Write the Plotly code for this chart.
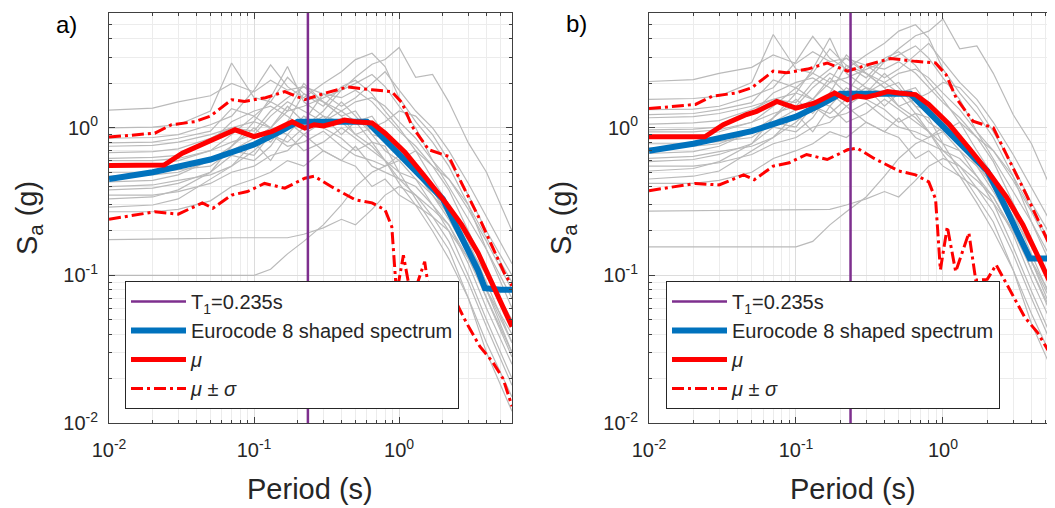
import plotly.graph_objects as go

# ---------------- data ----------------
T1 = 0.235
Y_LIM = [0.01, 6.0]

# period grid of the individual record spectra (s)
P = [0.01, 0.02, 0.03, 0.05, 0.07, 0.1, 0.13, 0.17, 0.22, 0.3, 0.4, 0.5,
     0.65, 0.8, 1.0, 1.3, 1.7, 2.2, 3.0, 4.0, 6.0]

# panel a) individual records Sa (g)
rec_a = [
    [1.32, 1.36, 1.5, 1.65, 2.0, 1.75, 2.1, 1.8, 1.9, 1.7, 1.6, 1.8, 1.5, 1.2, 0.95, 0.75, 0.55, 0.38, 0.2, 0.11, 0.045],
    [1.0, 1.01, 1.05, 1.3, 2.75, 1.6, 1.5, 2.2, 1.7, 1.4, 1.9, 2.1, 1.7, 1.3, 1.0, 0.7, 0.45, 0.3, 0.17, 0.09, 0.035],
    [0.85, 0.86, 0.9, 1.05, 1.2, 1.8, 2.67, 1.9, 1.6, 2.0, 2.4, 2.9, 3.2, 2.6, 1.6, 1.1, 0.8, 0.55, 0.3, 0.15, 0.06],
    [0.79, 0.8, 0.85, 0.95, 1.35, 1.2, 1.5, 1.3, 1.4, 1.6, 1.8, 2.2, 2.7, 2.9, 3.5, 2.2, 2.3, 1.5, 0.79, 0.5, 0.2],
    [0.75, 0.76, 0.8, 0.9, 1.0, 1.1, 1.0, 1.3, 2.0, 1.5, 1.3, 1.1, 1.2, 0.9, 0.75, 0.55, 0.4, 0.3, 0.16, 0.08, 0.03],
    [0.55, 0.56, 0.6, 0.7, 0.8, 0.9, 1.2, 1.5, 1.3, 1.1, 1.5, 1.2, 0.9, 0.7, 0.6, 0.45, 0.3, 0.2, 0.1, 0.05, 0.02],
    [0.47, 0.48, 0.5, 0.6, 0.75, 1.0, 0.8, 1.1, 1.7, 1.5, 1.2, 1.3, 0.9, 0.85, 0.7, 0.55, 0.38, 0.25, 0.14, 0.07, 0.028],
    [0.43, 0.44, 0.48, 0.6, 0.7, 0.85, 1.0, 0.9, 1.2, 1.0, 0.85, 0.7, 0.8, 0.75, 0.5, 0.33, 0.22, 0.15, 0.07, 0.03, 0.012],
    [0.38, 0.39, 0.42, 0.5, 0.65, 0.6, 0.75, 1.1, 0.9, 0.7, 0.6, 0.75, 0.55, 0.5, 0.45, 0.4, 0.3, 0.22, 0.12, 0.06, 0.025],
    [0.29, 0.3, 0.33, 0.45, 0.55, 0.8, 0.6, 0.9, 0.7, 0.8, 1.0, 0.85, 0.7, 0.6, 0.5, 0.45, 0.35, 0.26, 0.16, 0.1, 0.05],
    [0.27, 0.27, 0.28, 0.32, 0.4, 0.45, 0.5, 0.6, 0.55, 0.7, 0.6, 0.55, 0.4, 0.45, 0.35, 0.3, 0.25, 0.2, 0.13, 0.07, 0.03],
    [0.175, 0.176, 0.177, 0.178, 0.18, 0.18, 0.18, 0.18, 0.19, 0.21, 0.24, 0.22, 0.28, 0.35, 0.4, 0.35, 0.28, 0.22, 0.13, 0.08, 0.04],
    [0.1, 0.1, 0.1, 0.1, 0.1, 0.1, 0.11, 0.14, 0.17, 0.22, 0.3, 0.4, 0.5, 0.55, 0.6, 0.7, 0.55, 0.45, 0.3, 0.18, 0.09],
    [0.62, 0.63, 0.65, 0.8, 1.1, 1.3, 1.4, 1.2, 1.0, 1.2, 1.1, 0.9, 1.0, 1.1, 1.3, 1.2, 0.9, 0.6, 0.35, 0.2, 0.1],
    [0.5, 0.5, 0.52, 0.55, 0.7, 0.65, 0.9, 0.8, 1.0, 1.3, 1.8, 2.0, 2.3, 1.9, 1.4, 1.0, 0.6, 0.4, 0.24, 0.15, 0.07],
    [0.33, 0.34, 0.38, 0.5, 0.75, 1.1, 1.6, 2.6, 1.5, 1.2, 0.9, 1.1, 0.8, 0.6, 0.45, 0.35, 0.25, 0.17, 0.09, 0.045, 0.018],
    [0.6, 0.6, 0.62, 0.7, 0.9, 1.2, 1.0, 1.4, 1.1, 1.7, 1.4, 1.6, 2.0, 2.4, 1.8, 1.3, 1.0, 0.7, 0.42, 0.25, 0.12],
    [0.4, 0.41, 0.44, 0.48, 0.55, 0.7, 0.9, 0.75, 0.8, 0.95, 0.75, 0.65, 0.6, 0.55, 0.65, 0.5, 0.35, 0.24, 0.14, 0.08, 0.035],
    [0.68, 0.69, 0.72, 0.85, 1.0, 0.95, 1.3, 1.6, 1.9, 1.5, 1.2, 0.9, 0.75, 0.6, 0.42, 0.3, 0.2, 0.13, 0.07, 0.035, 0.015],
    [0.35, 0.35, 0.37, 0.42, 0.5, 0.55, 0.65, 0.7, 0.9, 1.1, 1.3, 1.5, 1.6, 1.4, 1.1, 0.85, 0.6, 0.45, 0.28, 0.17, 0.08],
]

# panel b) individual records Sa (g)
rec_b = [
    [2.06, 2.12, 2.34, 2.57, 3.12, 2.73, 3.28, 2.81, 2.96, 2.65, 2.5, 2.81, 2.34, 1.87, 1.48, 1.17, 0.86, 0.59, 0.31, 0.17, 0.07],
    [1.56, 1.58, 1.64, 2.03, 4.29, 2.5, 2.34, 3.43, 2.65, 2.18, 2.96, 3.28, 2.65, 2.03, 1.56, 1.09, 0.70, 0.47, 0.27, 0.14, 0.055],
    [1.33, 1.34, 1.4, 1.64, 1.87, 2.81, 4.17, 2.96, 2.5, 3.12, 3.74, 4.52, 4.99, 4.06, 2.5, 1.72, 1.25, 0.86, 0.47, 0.23, 0.094],
    [1.23, 1.25, 1.33, 1.48, 2.11, 1.87, 2.34, 2.03, 2.18, 2.5, 2.81, 3.43, 4.21, 4.52, 5.46, 3.43, 3.59, 2.34, 1.23, 0.78, 0.31],
    [1.17, 1.19, 1.25, 1.4, 1.56, 1.72, 1.56, 2.03, 3.12, 2.34, 2.03, 1.72, 1.87, 1.4, 1.17, 0.86, 0.62, 0.47, 0.25, 0.125, 0.047],
    [0.86, 0.87, 0.94, 1.09, 1.25, 1.4, 1.87, 2.34, 2.03, 1.72, 2.34, 1.87, 1.4, 1.09, 0.94, 0.70, 0.47, 0.31, 0.156, 0.078, 0.031],
    [0.73, 0.75, 0.78, 0.94, 1.17, 1.56, 1.25, 1.72, 2.65, 2.34, 1.87, 2.03, 1.4, 1.33, 1.09, 0.86, 0.59, 0.39, 0.22, 0.109, 0.044],
    [0.67, 0.69, 0.75, 0.94, 1.09, 1.33, 1.56, 1.4, 1.87, 1.56, 1.33, 1.09, 1.25, 1.17, 0.78, 0.51, 0.34, 0.23, 0.109, 0.047, 0.019],
    [0.59, 0.61, 0.66, 0.78, 1.01, 0.94, 1.17, 1.72, 1.4, 1.09, 0.94, 1.17, 0.86, 0.78, 0.70, 0.62, 0.47, 0.34, 0.19, 0.094, 0.039],
    [0.45, 0.47, 0.51, 0.70, 0.86, 1.25, 0.94, 1.4, 1.09, 1.25, 1.56, 1.33, 1.09, 0.94, 0.78, 0.70, 0.55, 0.41, 0.25, 0.156, 0.078],
    [0.42, 0.42, 0.44, 0.5, 0.62, 0.70, 0.78, 0.94, 0.86, 1.09, 0.94, 0.86, 0.62, 0.70, 0.55, 0.47, 0.39, 0.31, 0.2, 0.109, 0.047],
    [0.273, 0.275, 0.276, 0.278, 0.28, 0.28, 0.28, 0.28, 0.30, 0.33, 0.37, 0.34, 0.44, 0.55, 0.62, 0.55, 0.44, 0.34, 0.2, 0.125, 0.062],
    [0.156, 0.156, 0.156, 0.156, 0.156, 0.156, 0.17, 0.22, 0.27, 0.34, 0.47, 0.62, 0.78, 0.86, 0.94, 1.09, 0.86, 0.70, 0.47, 0.28, 0.14],
    [0.97, 0.98, 1.01, 1.25, 1.72, 2.03, 2.18, 1.87, 1.56, 1.87, 1.72, 1.4, 1.56, 1.72, 2.03, 1.87, 1.4, 0.94, 0.55, 0.31, 0.156],
    [0.78, 0.78, 0.81, 0.86, 1.09, 1.01, 1.4, 1.25, 1.56, 2.03, 2.81, 3.12, 3.59, 2.96, 2.18, 1.56, 0.94, 0.62, 0.37, 0.23, 0.109],
    [0.51, 0.53, 0.59, 0.78, 1.17, 1.72, 2.5, 4.06, 2.34, 1.87, 1.4, 1.72, 1.25, 0.94, 0.70, 0.55, 0.39, 0.27, 0.14, 0.07, 0.028],
    [0.94, 0.94, 0.97, 1.09, 1.4, 1.87, 1.56, 2.18, 1.72, 2.65, 2.18, 2.5, 3.12, 3.74, 2.81, 2.03, 1.56, 1.09, 0.66, 0.39, 0.19],
    [0.62, 0.64, 0.69, 0.75, 0.86, 1.09, 1.4, 1.17, 1.25, 1.48, 1.17, 1.01, 0.94, 0.86, 1.01, 0.78, 0.55, 0.37, 0.22, 0.125, 0.055],
    [1.06, 1.08, 1.12, 1.33, 1.56, 1.48, 2.03, 2.5, 2.96, 2.34, 1.87, 1.4, 1.17, 0.94, 0.66, 0.47, 0.31, 0.2, 0.109, 0.055, 0.023],
    [0.55, 0.55, 0.58, 0.66, 0.78, 0.86, 1.01, 1.09, 1.4, 1.72, 2.03, 2.34, 2.5, 2.18, 1.72, 1.33, 0.94, 0.70, 0.44, 0.27, 0.125],
]

# Eurocode 8 shaped spectrum
EC8_T = [0.01, 0.02, 0.05, 0.1, 0.15, 0.2, 0.3, 0.4, 0.5, 0.6, 0.8, 1.0,
         1.5, 2.0, 2.5, 3.0, 3.5, 3.9, 4.5, 5.0, 6.0]
EC8_a = [0.45, 0.50, 0.61, 0.77, 0.94, 1.10, 1.10, 1.10, 1.10, 1.10, 0.83, 0.66,
         0.44, 0.33, 0.21, 0.147, 0.108, 0.082, 0.08, 0.08, 0.08]
EC8_b = [0.70, 0.78, 0.95, 1.19, 1.45, 1.70, 1.70, 1.70, 1.70, 1.70, 1.28, 1.02,
         0.68, 0.51, 0.33, 0.227, 0.167, 0.13, 0.13, 0.13, 0.13]

# mean spectrum
MU_T = [0.01, 0.024, 0.032, 0.046, 0.054, 0.074, 0.1, 0.133, 0.183, 0.224, 0.26, 0.3,
        0.35, 0.42, 0.5, 0.65, 0.8, 1.1, 1.5, 2.1, 2.7, 3.5, 4.5, 6.0]
MU_a = [0.556, 0.56, 0.673, 0.787, 0.83, 0.97, 0.873, 0.944, 1.10, 0.995, 1.05, 1.03,
        1.07, 1.13, 1.10, 1.08, 0.92, 0.68, 0.47, 0.31, 0.22, 0.142, 0.083, 0.045]
MU_b = [0.87, 0.87, 1.05, 1.23, 1.29, 1.51, 1.36, 1.47, 1.72, 1.55, 1.64, 1.61,
        1.67, 1.76, 1.72, 1.68, 1.44, 1.06, 0.73, 0.48, 0.34, 0.22, 0.13, 0.07]

# mean + sigma
UP_T = [0.01, 0.0207, 0.027, 0.039, 0.05, 0.07, 0.086, 0.12, 0.163, 0.224, 0.31, 0.44,
        0.65, 0.89, 1.05, 1.23, 1.6, 2.2, 2.7, 3.7, 5.3, 6.0]
UP_a = [0.865, 0.92, 1.05, 1.10, 1.2, 1.55, 1.51, 1.6, 1.76, 1.55, 1.72, 1.89,
        1.81, 1.76, 1.47, 1.02, 0.71, 0.64, 0.42, 0.227, 0.104, 0.085]
UP_b = [1.35, 1.44, 1.64, 1.72, 1.87, 2.42, 2.36, 2.5, 2.75, 2.42, 2.68, 2.95,
        2.82, 2.75, 2.29, 1.59, 1.11, 1.0, 0.66, 0.35, 0.162, 0.133]

# mean - sigma
LO_T = [0.01, 0.0207, 0.03, 0.044, 0.052, 0.07, 0.09, 0.118, 0.163, 0.224, 0.26, 0.34,
        0.5, 0.65, 0.8, 0.89, 0.96, 1.07, 1.22, 1.5, 1.67, 2.0, 2.3, 2.6, 2.9, 3.6,
        4.4, 5.2, 6.0]
LO_a = [0.24, 0.27, 0.26, 0.31, 0.285, 0.35, 0.37, 0.42, 0.39, 0.456, 0.47, 0.40,
        0.325, 0.31, 0.278, 0.214, 0.075, 0.137, 0.068, 0.124, 0.06, 0.06, 0.076, 0.06,
        0.048, 0.033, 0.026, 0.02, 0.013]
LO_b = [0.375, 0.42, 0.41, 0.48, 0.445, 0.55, 0.58, 0.66, 0.61, 0.71, 0.73, 0.62,
        0.51, 0.48, 0.43, 0.33, 0.109, 0.214, 0.106, 0.194, 0.093, 0.094, 0.118, 0.094,
        0.076, 0.052, 0.041, 0.031, 0.021]

X_TICKS = [0.01, 0.1, 1]
X_TICKTEXT = ["10<sup>-2</sup>", "10<sup>-1</sup>", "10<sup>0</sup>"]
Y_TICKS = [0.01, 0.1, 1]
Y_TICKTEXT = ["10<sup>-2</sup>", "10<sup>-1</sup>", "10<sup>0</sup>"]
MINOR_X = [2e-2, 3e-2, 4e-2, 5e-2, 6e-2, 7e-2, 8e-2, 9e-2,
           0.2, 0.3, 0.4, 0.5, 0.6, 0.7, 0.8, 0.9, 2, 3, 4, 5, 6]
MINOR_Y = MINOR_X

# ---------------- styling ----------------
# the page body has an 8 px margin, so the figure is 8 px smaller and
# screen coordinates are converted with an 8 px offset
OFF = 8
W, H = 1055 - OFF, 508 - OFF
FONT = "Arial, 'Liberation Sans', Helvetica, sans-serif"
TXT = "#262626"
GRAY = "#bababa"
BLUE = "#0072BD"
RED = "#FF0000"
PURPLE = "#7E2F8E"
DASHDOT = "12px,4px,3px,4px"


def fx(sx):
    return (sx - OFF) / W


def fy(sy):
    return 1 - (sy - OFF) / H


fig = go.Figure()


def add_panel(xa, ya, leg, rec, ec8, mu, up, lo):
    for r in rec:
        fig.add_trace(go.Scatter(x=P, y=r, mode="lines", xaxis=xa, yaxis=ya,
                                 line=dict(color=GRAY, width=1.2), showlegend=False,
                                 hoverinfo="skip"))
    fig.add_trace(go.Scatter(x=EC8_T, y=ec8, mode="lines", xaxis=xa, yaxis=ya,
                             line=dict(color=BLUE, width=6),
                             name="Eurocode 8 shaped spectrum", legend=leg, legendrank=2))
    fig.add_trace(go.Scatter(x=MU_T, y=mu, mode="lines", xaxis=xa, yaxis=ya,
                             line=dict(color=RED, width=5),
                             name="<i>μ</i>", legend=leg, legendrank=3))
    fig.add_trace(go.Scatter(x=UP_T, y=up, mode="lines", xaxis=xa, yaxis=ya,
                             line=dict(color=RED, width=3, dash=DASHDOT),
                             name="<i>μ</i> ± <i>σ</i>", legend=leg, legendrank=4))
    fig.add_trace(go.Scatter(x=LO_T, y=lo, mode="lines", xaxis=xa, yaxis=ya,
                             line=dict(color=RED, width=3, dash=DASHDOT),
                             showlegend=False))
    fig.add_trace(go.Scatter(x=[T1, T1], y=Y_LIM, mode="lines", xaxis=xa, yaxis=ya,
                             line=dict(color=PURPLE, width=2.5),
                             name="T<sub>1</sub>=0.235s", legend=leg, legendrank=1))


add_panel("x", "y", "legend", rec_a, EC8_a, MU_a, UP_a, LO_a)
add_panel("x2", "y2", "legend2", rec_b, EC8_b, MU_b, UP_b, LO_b)


def axis_common(ticks_v, ticks_t, minor_v, standoff):
    return dict(type="log", tickvals=ticks_v, ticktext=ticks_t, ticks="inside", ticklen=6,
                tickcolor="#404040", showline=True, linecolor="#404040", linewidth=1,
                showgrid=True, gridcolor="#dcdcdc", gridwidth=1, automargin=False,
                ticklabelstandoff=standoff,
                zeroline=False, tickfont=dict(family=FONT, size=20, color=TXT),
                minor=dict(tickvals=minor_v, ticks="inside", ticklen=3,
                           tickcolor="#404040", showgrid=True, gridcolor="#ececec",
                           gridwidth=1))


ydom = [fy(423), fy(13)]
legend_style = dict(xanchor="left", yanchor="top", bgcolor="white",
                    bordercolor="#262626", borderwidth=1, itemwidth=55,
                    tracegroupgap=0, traceorder="normal",
                    font=dict(family=FONT, size=20, color=TXT))


def label(text, sx, sy, size, color=TXT, angle=0):
    return dict(text=text, x=fx(sx), y=fy(sy), xref="paper", yref="paper",
                xanchor="center", yanchor="middle", textangle=angle,
                showarrow=False, font=dict(family=FONT, size=size, color=color))


fig.update_layout(
    width=W, height=H, margin=dict(l=0, r=0, t=0, b=0, autoexpand=False),
    paper_bgcolor="white", plot_bgcolor="white",
    xaxis=axis_common(X_TICKS, X_TICKTEXT, MINOR_X, 9) | dict(
        domain=[fx(109), fx(512)], range=[-2, 0.778], anchor="y", mirror="ticks"),
    yaxis=axis_common(Y_TICKS, Y_TICKTEXT, MINOR_Y, 6) | dict(
        domain=ydom, range=[-2, 0.778], anchor="x", mirror="ticks"),
    xaxis2=axis_common(X_TICKS, X_TICKTEXT, MINOR_X, 9) | dict(
        domain=[fx(649), 1.0], range=[-2, 0.762], anchor="y2", mirror="ticks"),
    yaxis2=axis_common(Y_TICKS, Y_TICKTEXT, MINOR_Y, 6) | dict(
        domain=ydom, range=[-2, 0.778], anchor="x2", mirror=False),
    legend=dict(x=fx(125), y=fy(281), **legend_style),
    legend2=dict(x=fx(666), y=fy(281), **legend_style),
    annotations=[
        label("a)", 66, 24, 24, "black"),
        label("b)", 576, 23, 24, "black"),
        label("Period (s)", 310, 489, 29),
        label("Period (s)", 853, 489, 29),
        label("S<sub>a</sub> (g)", 29, 218, 29, angle=-90),
        label("S<sub>a</sub> (g)", 563, 218, 29, angle=-90),
    ],
)

fig.write_html("out.html")
